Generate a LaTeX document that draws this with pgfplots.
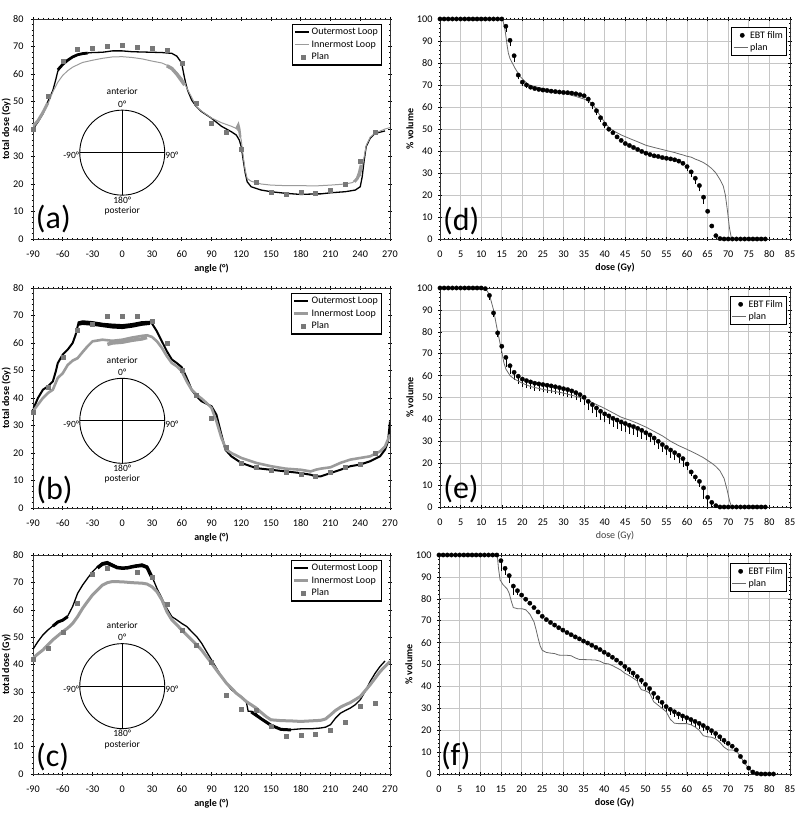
\documentclass[border=0pt]{standalone}
\usepackage{fontspec}
\setmainfont{Carlito}
\usepackage{pgfplots}
\pgfplotsset{compat=1.18}
\definecolor{innergrey}{RGB}{155,155,155}
\definecolor{plangrey}{RGB}{120,120,120}
\definecolor{planline}{RGB}{105,105,105}
\newcommand{\fs}{\fontsize{9.5}{11}\selectfont}
\newcommand{\ft}{\fontsize{10.2}{12}\selectfont}
\newcommand{\fl}{\fontsize{10}{11.5}\selectfont}
\pgfplotsset{
 base/.style={scale only axis, /pgf/number format/assume math mode=true,
   tick label style={font=\ft}, label style={font=\bfseries\fl},
   xticklabel style={yshift=-6pt},
   tick align=center, major tick length=4pt, minor tick length=2.5pt,
   every tick/.style={black, line width=0.5pt},
   axis line style={line width=0.6pt, black!80}},
 leftax/.style={base, width=357pt, height=220pt, xmin=-90, xmax=270, ymin=0, ymax=80,
   xtick={-90,-60,...,270}, ytick={0,10,...,80}, minor x tick num=5, minor y tick num=4,
   yticklabel style={xshift=-4pt},
   xlabel={angle (°)}, ylabel={total dose (Gy)},
   x label style={at={(axis description cs:0.5,-0.135)}, anchor=center},
   y label style={at={(axis description cs:-0.075,0.5)}, anchor=center},
   legend style={at={(1,1)}, xshift=-8pt, yshift=-5pt, anchor=north east, draw=black,
     line width=1.2pt, font=\fl, cells={anchor=west}, inner sep=1.5pt, row sep=0.5pt}},
 rightax/.style={base, width=350pt, height=220pt, xmin=0, xmax=85, ymin=0, ymax=100,
   xtick={0,5,...,85}, ytick={0,10,...,100}, minor x tick num=4, minor y tick num=4,
   yticklabel style={xshift=-2pt},
   grid=major, major grid style={gray!45, line width=0.7pt},
   xlabel={dose (Gy)}, ylabel={\% volume},
   x label style={at={(axis description cs:0.5,-0.13)}, anchor=center},
   y label style={at={(axis description cs:-0.086,0.5)}, anchor=center},
   legend style={at={(1,1)}, xshift=-3pt, yshift=-8pt, anchor=north east, draw=black,
     line width=1.2pt, font=\fl, cells={anchor=west}, inner sep=1.5pt}},
 lineleg/.style={legend image code/.code={\draw[##1] (0pt,0pt) -- (14pt,0pt);}},
 outer/.style={black, line width=1.3pt, no marks, lineleg},
 inner/.style={innergrey, line width=1.0pt, no marks, lineleg},
 plan/.style={only marks, mark=square*, mark size=2pt, plangrey, mark options={line width=0.3pt}},
 ebt/.style={only marks, mark=*, mark size=2.2pt, black, mark options={line width=0.3pt},
   error bars/.cd, y dir=minus, y explicit, error mark=-, error bar style={line width=0.6pt, black},
   error mark options={mark size=2pt, line width=0.6pt}},
 planl/.style={planline, line width=0.8pt, no marks, lineleg},
}
\newcommand{\inset}[1]{%
 \draw[line width=0.9pt] (axis cs:0,#1) circle[radius=42.5pt];
 \draw[line width=0.9pt] ([xshift=-42.5pt]axis cs:0,#1) -- ([xshift=42.5pt]axis cs:0,#1);
 \draw[line width=0.9pt] ([yshift=-42.5pt]axis cs:0,#1) -- ([yshift=42.5pt]axis cs:0,#1);
 \node[font=\fs, inner sep=0pt] at ([yshift=61pt]axis cs:0,#1) {anterior};
 \node[font=\fs, inner sep=0pt] at ([yshift=48.5pt]axis cs:0,#1) {0°};
 \node[font=\fs, inner sep=0pt] at ([yshift=-47.5pt]axis cs:0,#1) {180°};
 \node[font=\fs, inner sep=0pt] at ([yshift=-58.5pt]axis cs:0,#1) {posterior};
 \node[font=\fs, inner sep=0pt, anchor=east] at ([xshift=-43pt,yshift=-3pt]axis cs:0,#1) {-90°};
 \node[font=\fs, inner sep=0pt, anchor=west] at ([xshift=43pt,yshift=-3pt]axis cs:0,#1) {90°};
}
\newcommand{\plabel}[3]{\node[font=\fontsize{32}{32}\selectfont, inner sep=0pt] at (rel axis cs:#1,#2) {#3};}
\begin{document}
\begin{tikzpicture}
\useasboundingbox (0,0) rectangle (800pt,825pt);
% ---------------- (a)
\begin{axis}[leftax, at={(33pt,586pt)}, anchor=south west]
\addplot[outer] coordinates {(-90,40)(-85,42.5)(-80,45.5)(-75,50)(-70,54)(-67,58)(-65,61)(-62,62.5)(-60,63.5)(-55,65)(-50,66.3)(-45,67)(-40,67.5)(-30,67.8)(-20,67.9)(-10,68.4)(0,68.4)(10,68.1)(20,68)(30,67.9)(40,67.8)(50,67.5)(55,66.5)(58,65)(60,63.8)(62,60)(64,56.6)(66,54)(70,50.5)(75,48)(80,46.3)(90,43.9)(100,41)(110,39)(115,37.8)(118,36)(120,33.6)(122,28.7)(124,24)(126,20.8)(130,19)(140,17.8)(150,17.2)(165,16.6)(180,16.2)(195,16.4)(200,16.4)(210,16.8)(225,17.2)(235,17.8)(240,19)(242,22.7)(244,28.7)(246,33.6)(250,36.6)(255,38.4)(265,39.3)};
\addlegendentry{Outermost Loop}
\addplot[black, line width=2.8pt, forget plot] coordinates {(-65,61.5)(-60,63.5)(-55,65)(-50,66.2)(-45,67)(-40,67.4)(-35,67.6)};
\addplot[inner] coordinates {(-90,41)(-85,43)(-80,46)(-75,49)(-70,53.5)(-65,57)(-60,59.5)(-55,61.2)(-50,62.5)(-40,64.2)(-30,65)(-20,65.7)(-10,66.2)(0,66.3)(10,66)(20,65.5)(30,64.7)(40,64)(45,63.2)(50,62.2)(55,60.5)(60,58.5)(65,55)(70,51.5)(75,48)(80,46.5)(90,44)(100,42.3)(110,41)(115,40.2)(118,39)(120,36)(122,30)(124,25)(126,22)(130,21)(140,20)(150,19.6)(165,19.4)(180,19.4)(195,19.3)(210,19.6)(225,20)(232,20.5)(236,21.5)(240,23)(242,26)(244,30)(246,34)(250,37)(255,38.5)(265,40)(270,40.5)};
\addlegendentry{Innermost Loop}
\addplot[innergrey, line width=3.5pt, forget plot] coordinates {(45,63)(50,62)(55,60)(60,57.5)(63,56)};
\addplot[innergrey, line width=2.5pt, forget plot] coordinates {(115,40)(117,41.5)(118,40)(119,37)};
\addplot[innergrey, line width=3pt, forget plot] coordinates {(234,20.8)(237,22)(239,24)(241,27)};
\addplot[innergrey, line width=3pt, forget plot] coordinates {(-90,41)(-85,43)(-80,46)(-75,49.5)};
\addplot[plan] coordinates {(-90,40)(-75,52)(-60,64.5)(-45,69)(-30,69.3)(-15,70)(0,70.4)(15,69.8)(30,69.3)(45,68.7)(60,63.9)(75,49.3)(90,42.3)(105,39)(120,32.6)(135,20.7)(150,17.2)(165,16.4)(180,17)(195,16.7)(210,17.8)(225,19.9)(240,28.4)(255,38.8)};
\addlegendentry{Plan}
\inset{31.4}
\plabel{0.057}{0.09}{(a)}
\end{axis}
% ---------------- (d)
\begin{axis}[rightax, at={(440pt,586pt)}, anchor=south west]
\addplot[ebt] coordinates {(0,100)(1,100)(2,100)(3,100)(4,100)(5,100)(6,100)(7,100)(8,100)(9,100)(10,100)(11,100)(12,100)(13,100)(14,100)(15,100)
(16,96.7) -= (0,1.8) (17,90.3) -= (0,1.8) (18,83.3) -= (0,1.8) (19,74.5) -= (0,1) (20,71.3) -= (0,0.8) (21,70) -= (0,0.5) (22,69) (23,68.4) (24,68) (25,67.7) (26,67.5) (27,67.2) (28,67) (29,66.8) (30,66.6) (31,66.5) (32,66.3) (33,66) (34,65.6) (35,65.1) (36,63.6) -= (0,1) (37,61.3) -= (0,1.5) (38,58.3) -= (0,1) (39,55.1) -= (0,0.8) (40,52.2) -= (0,0.8) (41,49.9) (42,48.3) (43,46.4) (44,44.8) (45,43.4) (46,42.5) (47,41.6) (48,40.7) (49,39.8) (50,39) (51,38.4) (52,37.8) (53,37.5) (54,37) (55,36.7) (56,36.4) (57,36) (58,35.4) (59,34.4) (60,32.9) -= (0,1) (61,30.5) -= (0,1.5) (62,27.6) -= (0,1.8) (63,24.3) -= (0,1.8) (64,19) -= (0,2) (65,12.6) (66,5.9) (67,1.5) (68,0.2) (69,0) (70,0) (71,0) (72,0) (73,0) (74,0) (75,0) (76,0) (77,0) (78,0) (79,0)};
\addlegendentry{EBT film}
\addplot[planl] coordinates {(0,100)(15.2,100)(15.8,95)(16.3,88)(16.6,84.5)(17,82)(18.2,77.7)(19.4,74)(21,70.9)(22,69.7)(25,68.4)(30,66.3)(33,64.8)(35,63.6)(36,62.8)(37,61.5)(38,58.7)(39,55.7)(40,53)(41,50.8)(42,49.3)(44,47.3)(46,45.7)(48,44.2)(50,42.6)(52,41.6)(55,40.2)(57,39.3)(58,38.7)(59,38.2)(60,37.6)(61,37.2)(62,36.3)(63,35.6)(64,34.7)(65,33.5)(66,32)(67,30)(68,27)(68.8,24)(69.3,20)(69.8,13)(70.3,5)(70.8,0)(71.5,0)};
\addlegendentry{plan}
\plabel{0.061}{0.082}{(d)}
\end{axis}
% ---------------- (b)
\begin{axis}[leftax, at={(33pt,317pt)}, anchor=south west]
\addplot[outer, line width=2pt] coordinates {(-90,35.8)(-85,40)(-80,43)(-75,44.2)(-70,46)(-67,49.7)(-65,52.7)(-60,55.8)(-55,57.6)(-50,60)(-47,63)(-44,67.5)(-40,67.9)(-30,67.6)(-20,67)(-10,66.7)(0,66.5)(10,66.9)(20,67.6)(28,67.7)(30,67.1)(35,64.2)(40,60.6)(45,57)(50,54)(55,52.7)(60,51.2)(65,47.3)(70,43)(75,40.6)(80,38.8)(85,37.9)(90,37)(95,33.9)(100,26.7)(104,21.2)(110,18.8)(120,16.4)(135,14.5)(150,13.9)(165,13.3)(180,12.7)(190,12.1)(195,11.5)(200,11.5)(210,12.7)(220,13.9)(230,15.2)(240,15.8)(250,17)(260,18.8)(265,21.2)(268,24.2)(270,31.5)};
\addlegendentry{Outermost Loop}
\addplot[black, line width=4pt, forget plot] coordinates {(-44,67)(-40,67.3)(-30,67)(-20,66.5)(-10,66)(0,65.8)(10,66.3)(20,67)(28,67.3)};
\addplot[inner, line width=2.6pt] coordinates {(-90,35.2)(-85,37.6)(-80,40)(-75,41.8)(-70,43)(-65,47.3)(-60,49)(-55,52)(-50,53.6)(-45,54.5)(-40,56.7)(-35,58.8)(-30,60.6)(-20,61.2)(-10,60.8)(0,61.2)(10,62)(20,62.6)(25,62.8)(30,62.2)(35,60.6)(40,58.2)(45,55.2)(50,52.7)(55,51.5)(60,49.7)(65,46)(70,43)(75,41.2)(80,39.8)(85,38.2)(90,36.4)(95,31.5)(100,25.5)(105,21.2)(110,20)(120,18.2)(135,16.4)(150,15.2)(165,14.3)(180,13.9)(190,13.3)(195,13.9)(200,14.3)(210,14.8)(220,16.4)(230,17.6)(240,18.2)(250,18.8)(260,20.6)(265,22.4)(270,26.7)};
\addlegendentry{Innermost Loop}
\addplot[innergrey, line width=3.5pt, forget plot] coordinates {(-15,59.5)(-10,60)(0,60.3)(10,61)(20,61.5)(25,62)};
\addplot[plan] coordinates {(-90,35)(-75,44)(-60,55)(-45,64.8)(-30,66.7)(-15,69.8)(0,69.6)(15,69.6)(30,67.9)(45,59.8)(60,50.3)(75,41)(90,32.5)(105,22)(120,16.2)(135,14.9)(150,13.9)(165,13.1)(180,12.4)(195,11.5)(210,13)(225,14.8)(240,16)(255,20)};
\addlegendentry{Plan}
\inset{31.7}
\plabel{0.06}{0.082}{(b)}
\end{axis}
% ---------------- (e)
\begin{axis}[rightax, at={(440pt,318pt)}, anchor=south west, height=219pt, xlabel style={font=\mdseries\fl, black!75}]
\addplot[ebt] coordinates {(0,100)(1,100)(2,100)(3,100)(4,100)(5,100)(6,100)(7,100)(8,100)(9,100)(10,100)(11,99.7)
(12,96.6) -= (0,1) (13,88.6) -= (0,1) (14,79.5) -= (0,1) (15,73.4) -= (0,2) (16,68.3) -= (0,3.5) (17,64.5) -= (0,3) (18,61.5) -= (0,2.5) (19,59.7) -= (0,2.5) (20,58.4) -= (0,2.5) (21,57.7) -= (0,2.5) (22,57.1) -= (0,2.5) (23,56.5) -= (0,2.5) (24,56.2) -= (0,2.5) (25,55.9) -= (0,2.5) (26,55.6) -= (0,2.5) (27,55.3) -= (0,2.5) (28,54.9) -= (0,2.5) (29,54.5) -= (0,2.5) (30,54) -= (0,2.5) (31,53.6) -= (0,2.5) (32,53) -= (0,2.5) (33,52.2) -= (0,2.5) (34,51.3) -= (0,2.5) (35,50.1) -= (0,2.8) (36,48.2) -= (0,3) (37,46.7) -= (0,3) (38,45.2) -= (0,3) (39,43.7) -= (0,3) (40,42.5) -= (0,3) (41,41.6) -= (0,3) (42,40.5) -= (0,3) (43,39.7) -= (0,3) (44,38.8) -= (0,3) (45,38.1) -= (0,3) (46,37.3) -= (0,3) (47,36.7) -= (0,3) (48,35.9) -= (0,3) (49,35) -= (0,3) (50,33.9) -= (0,2.5) (51,32.9) -= (0,2.5) (52,31.5) -= (0,2.5) (53,30) -= (0,2.5) (54,28.5) -= (0,2.5) (55,27.2) -= (0,2.5) (56,26) -= (0,2.5) (57,24.8) -= (0,2.5) (58,23.6) -= (0,2.5) (59,22.1) -= (0,3) (60,19.6) -= (0,2) (61,16) -= (0,1) (62,13.7) -= (0,1) (63,11.7) -= (0,1.5) (64,8.7) -= (0,4) (65,4.4) -= (0,3.5) (66,2.1) -= (0,1.5) (67,0.6) (68,0) (69,0) (70,0) (71,0) (72,0) (73,0) (74,0) (75,0) (76,0) (77,0) (78,0) (79,0)};
\addlegendentry{EBT Film}
\addplot[planl] coordinates {(0,100)(11,100)(12,97)(13,90)(14,80)(15,71)(15.5,66)(16,63)(17,60)(18,58.5)(20,56.5)(22,55)(25,53.7)(28,52.7)(30,52)(32,51)(34,50)(36,48.5)(38,46.8)(40,45)(42,43)(44,41)(46,39.7)(48,38.2)(50,36.5)(52,34.5)(54,32.5)(56,30)(58,28)(60,26.3)(62,24.5)(64,22.5)(66,20)(67,18.5)(68,16.5)(69,13)(69.7,8)(70.3,3)(70.8,0)(71.5,0)};
\addlegendentry{plan}
\plabel{0.06}{0.084}{(e)}
\end{axis}
% ---------------- (c)
\begin{axis}[leftax, at={(33pt,51pt)}, anchor=south west, height=219pt]
\addplot[outer] coordinates {(-90,45.6)(-85,48.4)(-80,50.8)(-75,52.6)(-70,54.1)(-65,55.7)(-60,56.3)(-55,57.7)(-50,61.2)(-45,66)(-40,69)(-35,71.5)(-30,73.9)(-25,75.7)(-20,77.2)(-15,77.6)(-10,76.7)(-5,75.7)(0,75.4)(5,75.5)(10,76)(15,76.4)(20,76.7)(25,76)(30,72.1)(35,67.8)(40,64.2)(45,60.5)(50,57.5)(55,56.3)(60,55)(65,53.9)(70,52)(75,50.2)(80,47.8)(85,44.7)(90,41.7)(95,38.7)(100,35.6)(105,33.2)(110,30.8)(115,29.5)(120,28.3)(125,26.5)(127,22.9)(130,22.9)(135,22)(140,20.4)(145,19.2)(150,18)(155,17.1)(160,16.4)(165,16)(170,16.2)(180,16.5)(190,16.5)(200,16.8)(205,17.1)(210,18)(215,20.4)(220,22.2)(225,23.2)(230,24.1)(235,25.3)(240,27.1)(245,30.2)(250,33.8)(255,36.8)(260,39.3)(265,41.3)};
\addlegendentry{Outermost Loop}
\addplot[black, line width=3.5pt, forget plot] coordinates {(-25,75.3)(-20,76.7)(-15,77)(-10,76.2)(-5,75.4)(0,75.2)(5,75.3)(10,75.7)(15,76)(20,76.2)(25,75.5)(30,71.8)};
\addplot[black, line width=3pt, forget plot] coordinates {(-70,54)(-65,55.5)(-60,56.2)(-55,57.5)};
\addplot[black, line width=3pt, forget plot] coordinates {(130,22.7)(140,20.2)(150,17.8)(160,16.3)(170,16.1)};
\addplot[inner, line width=3pt] coordinates {(-90,42.3)(-85,43.9)(-80,45.3)(-75,47.2)(-70,49)(-65,50.5)(-60,52)(-55,53.3)(-50,55)(-45,57.5)(-40,60.5)(-35,63)(-30,65.4)(-25,67.2)(-20,69)(-15,69.9)(-10,70.3)(0,70.2)(10,69.9)(20,69.7)(25,69.4)(30,68.4)(35,66.6)(40,63.6)(45,59.3)(50,56.3)(55,54.5)(60,52.6)(65,50.8)(70,49)(75,47.2)(80,45.3)(85,42.9)(90,40.5)(95,38)(100,35.6)(105,33.2)(110,31.4)(115,29.5)(120,28.1)(125,26.5)(130,25.3)(135,24.1)(140,22.5)(145,21)(150,19.8)(160,19.5)(170,19.4)(180,19.2)(190,19.4)(200,19.6)(205,20.1)(210,21.6)(215,23.2)(220,24.4)(225,25.3)(230,26.1)(240,28.3)(250,32.6)(255,35)(260,37.4)(265,39.3)(270,41.1)};
\addlegendentry{Innermost Loop}
\addplot[plan] coordinates {(-90,41.9)(-75,46)(-60,51.7)(-45,62.4)(-30,73.1)(-15,75.1)(15,73.7)(30,71.9)(45,62)(60,52.6)(75,47)(90,41)(105,28.7)(120,23.6)(135,23.3)(150,17.4)(165,14)(180,14.2)(195,14.5)(210,16.2)(225,19.1)(240,24.7)(255,25.7)};
\addlegendentry{Plan}
\inset{32.1}
\plabel{0.055}{0.078}{(c)}
\end{axis}
% ---------------- (f)
\begin{axis}[rightax, at={(439pt,51pt)}, anchor=south west, width=351pt, height=219pt]
\addplot[ebt] coordinates {(0,100)(1,100)(2,100)(3,100)(4,100)(5,100)(6,100)(7,100)(8,100)(9,100)(10,100)(11,100)(12,100)(13,100)(14,100)
(15,97.4) -= (0,4) (16,93.9) -= (0,2) (17,90.6) -= (0,2.5) (18,85.8) -= (0,3) (19,83.7) -= (0,1) (20,81.7) (21,79.8) (22,78) (23,76) (24,74) (25,72) (26,70.5) (27,69.2) (28,68) (29,66.8) (30,65.7) (31,64.6) (32,63.6) (33,62.6) (34,61.7) (35,60.7) (36,59.8) (37,58.8) (38,57.8) (39,56.8) (40,55.6) (41,54.5) (42,53.3) (43,52) (44,50.6) (45,49.1) -= (0,1) (46,47.7) -= (0,1) (47,46.1) -= (0,1) (48,44.5) -= (0,1) (49,42.8) -= (0,1) (50,40.9) -= (0,1.5) (51,39) -= (0,1.5) (52,36.8) -= (0,1.5) (53,34.8) -= (0,1.5) (54,32.7) -= (0,1.5) (55,30.8) -= (0,1.5) (56,29.5) -= (0,1.5) (57,28.4) -= (0,1.5) (58,27.4) -= (0,1.5) (59,26.5) -= (0,1.5) (60,25.7) -= (0,1.5) (61,24.9) -= (0,1.5) (62,24) -= (0,1.5) (63,23.1) -= (0,1.5) (64,22.1) -= (0,1.5) (65,21) -= (0,1.5) (66,19.8) -= (0,1) (67,18.5) -= (0,1) (68,17) -= (0,1) (69,15.4) -= (0,1) (70,14) (71,12.7) (72,11) (73,8) (74,5.5) (75,2.7) (76,0.9) (77,0.2) (78,0) (79,0) (80,0) (81,0)};
\addlegendentry{EBT Film}
\addplot[planl] coordinates {(0,100)(14.1,100)(14.4,94)(14.8,88.6)(15.5,86.5)(16.5,84.5)(17,82.5)(17.5,79)(18,76)(19,75.5)(20,75.5)(21,75)(22,73)(23,69.5)(23.5,66)(24,62)(24.5,58.5)(25,56.5)(26,55.5)(27,55.2)(28,55)(29,54.3)(30,54.2)(31,54.2)(32,54)(33,53)(34,52.3)(36,52.2)(38,52)(39,51.5)(40,50.5)(41,50.3)(42,49.5)(43,48.5)(44,47.5)(45,46)(46,45)(47,43.8)(48,42.5)(48.5,40)(49,38.5)(50,38)(51,37)(52,33)(53,31.5)(54,30)(55,28.5)(56,25)(57,23.2)(58,23)(59,23)(60,23)(61,22.5)(62,21.5)(63,20)(64,17.5)(65,17)(66,16.8)(67,16)(68,14.5)(69,12.3)(70,11)(71,11)(72,10.5)(73,8)(74,5)(75,2.5)(76,0.5)(77,0)};
\addlegendentry{plan}
\plabel{0.048}{0.08}{(f)}
\end{axis}
\end{tikzpicture}
\end{document}
